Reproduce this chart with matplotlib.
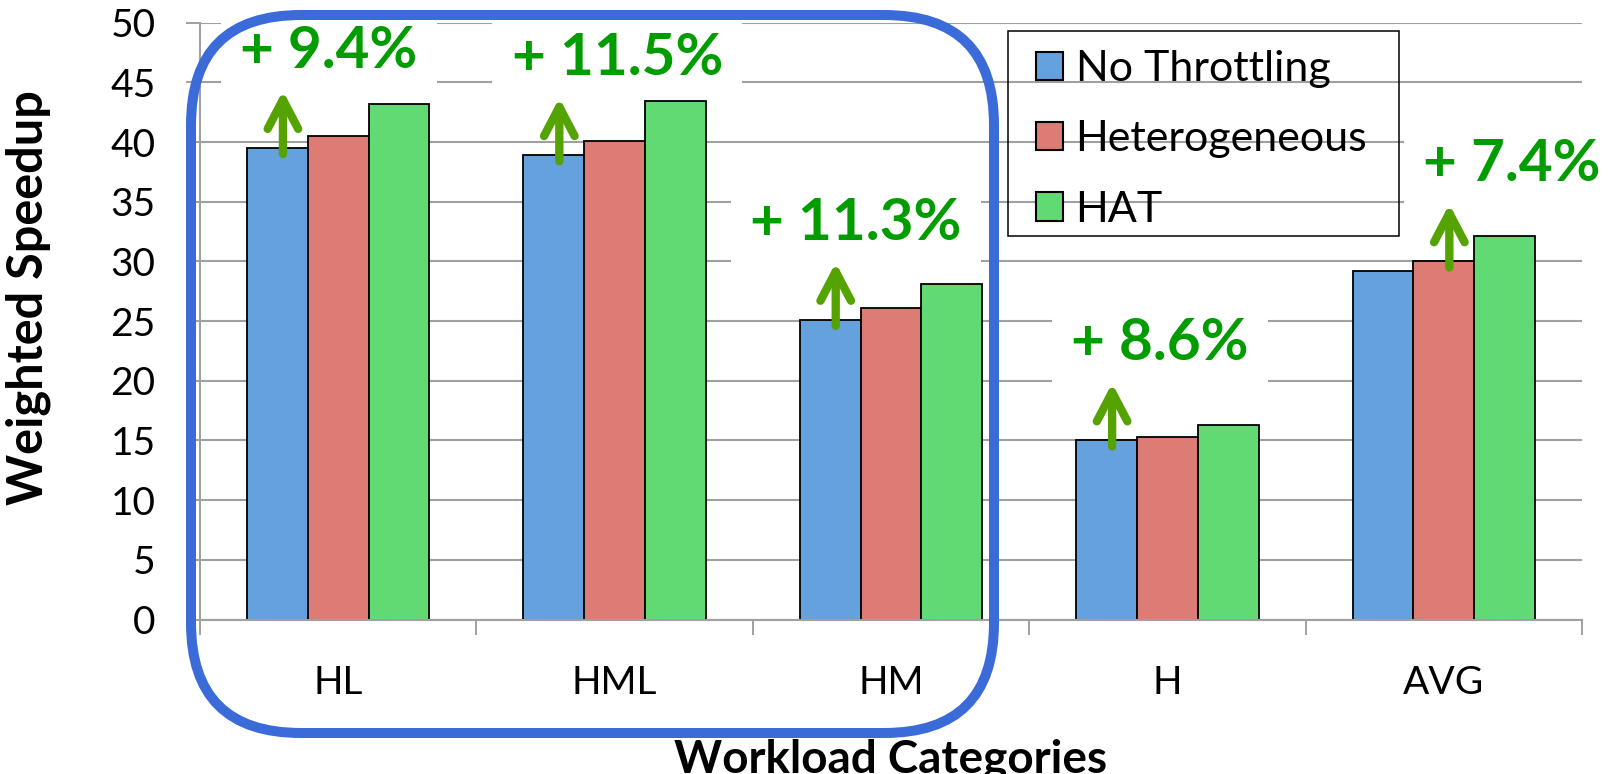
import matplotlib.pyplot as plt
import numpy as np
from matplotlib.patches import FancyBboxPatch, Rectangle
from matplotlib.transforms import IdentityTransform

plt.rcParams['font.family'] = ['Lato', 'DejaVu Sans']

# Weighted speedup per workload category
categories = ['HL', 'HML', 'HM', 'H', 'AVG']
no_throttling = [39.5, 38.9, 25.1, 15.0, 29.2]
heterogeneous = [40.5, 40.1, 26.1, 15.3, 30.0]
hat = [43.2, 43.4, 28.1, 16.3, 32.1]
series_names = ['No Throttling', 'Heterogeneous', 'HAT']
gain_labels = ['+ 9.4%', '+ 11.5%', '+ 11.3%', '+ 8.6%', '+ 7.4%']
# which series each gain arrow starts from (0 = No Throttling, 1 = Heterogeneous)
arrow_from = [0, 0, 0, 0, 1]

colors = ['#64A1DD', '#DD7B75', '#62DA74']
grid_gray = '#A0A0A0'
arrow_green = '#55A300'
text_green = '#009C00'

fig = plt.figure(figsize=(16.12, 7.74), dpi=100)
W, H = 1612, 774
ax = fig.add_axes([200 / W, 154.5 / H, 1382 / W, 596.8 / H])

x = np.arange(len(categories))
bw = 0.22
all_series = [no_throttling, heterogeneous, hat]
for i, (vals, name) in enumerate(zip(all_series, series_names)):
    ax.bar(x + (i - 1) * bw, vals, bw, color=colors[i], edgecolor='black',
           linewidth=1.3, label=name, zorder=2)

ax.set_xlim(-0.5, len(categories) - 0.5)
ax.set_ylim(0, 50)
ax.set_yticks(range(0, 51, 5))
ax.set_xticks(x)
ax.set_xticklabels(categories, fontsize=28)
ax.set_xticks(np.arange(-0.5, len(categories), 1), minor=True)
ax.tick_params(axis='x', which='major', length=0, pad=33)
ax.tick_params(axis='x', which='minor', length=11, width=1.4, color=grid_gray)
ax.tick_params(axis='y', labelsize=28, length=10, width=1.4, color=grid_gray, pad=22)

ax.set_axisbelow(True)
ax.yaxis.grid(True, color=grid_gray, linewidth=1.5)
for s in ['top', 'right']:
    ax.spines[s].set_visible(False)
for s in ['left', 'bottom']:
    ax.spines[s].set_color(grid_gray)
    ax.spines[s].set_linewidth(1.5)

ax.set_ylabel('Weighted Speedup', fontsize=35, fontweight='bold')
ax.yaxis.set_label_coords(-0.108, 0.539)
ax.set_xlabel('Workload Categories', fontsize=33, fontweight='bold', va='center')
ax.xaxis.set_label_coords(0.5, -0.235)

# gain arrows and percentage labels; the white label boxes only hide the grid
arrow_len = 5.3
label_dx = [-0.033, 0.01, -0.127, -0.027, 0.246]
for k, cat in enumerate(categories):
    src = arrow_from[k]
    base_val = all_series[src][k]
    ax_x = x[k] + (src - 1) * bw + 0.02
    base = base_val - 0.5
    tip = base + arrow_len
    ax.annotate('', xy=(ax_x, tip), xytext=(ax_x, base),
                arrowprops=dict(arrowstyle='->,head_length=1.05,head_width=0.55',
                                lw=6, color=arrow_green, shrinkA=0, shrinkB=0,
                                mutation_scale=20, capstyle='round',
                                joinstyle='round'),
                zorder=6)
    ax.text(x[k] + label_dx[k], tip + 3.3, gain_labels[k], fontsize=42,
            fontweight='bold', color=text_green, ha='center', va='center',
            zorder=1.8, bbox=dict(boxstyle='square,pad=0.33', fc='white', ec='none'))

# legend entries without frame; the frame is drawn separately as a plain box
leg = ax.legend(loc='upper left', bbox_to_anchor=(1036 / W, 1 - 50 / H),
                bbox_transform=fig.transFigure, fontsize=31, frameon=False,
                borderpad=0, handlelength=0.63, handleheight=0.63,
                handletextpad=0.29, labelspacing=0.75, borderaxespad=0)
for h in leg.legend_handles:
    h.set_linewidth(1.5)
leg.set_zorder(7)

frame = Rectangle((1008, H - 236), 391, 205, transform=IdentityTransform(),
                  fill=False, edgecolor='black', linewidth=1.1, zorder=7)
fig.add_artist(frame)

# rounded outline around the heterogeneous workload groups
box = FancyBboxPatch((191, 41), 803, 718,
                     boxstyle='round,pad=0,rounding_size=110',
                     transform=IdentityTransform(), fill=False,
                     edgecolor='#3A6BD9', linewidth=7.2, zorder=10)
fig.add_artist(box)

fig.savefig('out.png', dpi=100)
